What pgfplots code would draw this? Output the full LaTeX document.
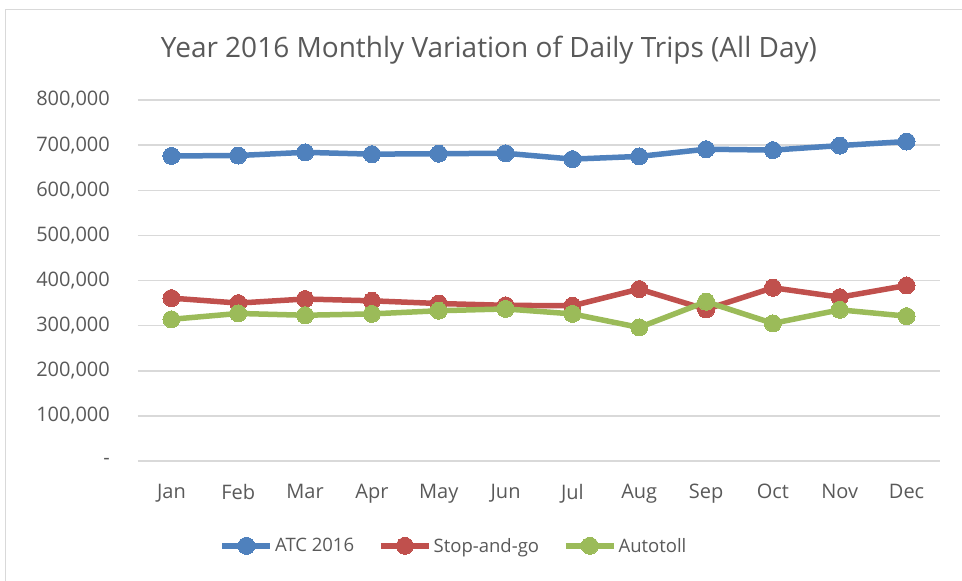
\documentclass[border=0pt]{standalone}
\usepackage{fontspec}
\setmainfont{Open Sans}
\usepackage{pgfplots}
\pgfplotsset{compat=1.18}
\definecolor{atcblue}{HTML}{4F81BD}
\definecolor{sgred}{HTML}{C0504D}
\definecolor{atgreen}{HTML}{9BBB59}
\definecolor{txtgray}{HTML}{595959}
\definecolor{gridgray}{HTML}{D9D9D9}

% monthly daily trips
\pgfplotstableread{
m atc    sg     at
0 676000 361000 314000
1 677000 350000 327000
2 684000 359000 323000
3 680000 355000 326000
4 681000 349000 333000
5 682000 345000 337000
6 669000 344000 326000
7 675000 381000 296000
8 691000 336000 353000
9 689000 384000 305000
10 699000 363000 335000
11 708000 389000 321000
}\trips

\begin{document}
\begin{tikzpicture}
\path[use as bounding box] (0pt,0pt) rectangle (962pt,-581pt);
\draw[gridgray, line width=1pt] (5pt,-620pt) -- (5pt,-9pt) -- (1000pt,-9pt);
\node[font=\fontsize{28}{32}\selectfont, text=txtgray] at (489pt,-50pt) {Year 2016 Monthly Variation of Daily Trips (All Day)};
\begin{axis}[
    at={(138pt,-461pt)}, anchor=south west,
    scale only axis,
    width=802pt, height=361pt,
    xmin=-0.5, xmax=11.5,
    ymin=0, ymax=800000,
    scaled y ticks=false,
    axis line style={draw=none},
    major tick length=0pt,
    ymajorgrids,
    grid style={gridgray, line width=1.5pt},
    xtick={0,...,11},
    xticklabels={Jan,Feb,Mar,Apr,May,Jun,Jul,Aug,Sep,Oct,Nov,Dec},
    ytick={0,100000,...,800000},
    yticklabels={{-},{100,000},{200,000},{300,000},{400,000},{500,000},{600,000},{700,000},{800,000}},
    tick label style={font=\fontsize{20}{24}\selectfont, text=txtgray},
    yticklabel style={anchor=east, inner sep=0pt, xshift=-28pt},
    xticklabel style={anchor=north, inner sep=0pt, yshift=-23pt},
    every axis plot/.append style={line width=5.5pt, mark=*, mark size=8.5pt},
    legend style={draw=none, at={(0.394,-0.235)}, anchor=center, legend columns=3,
        font=\fontsize{18.5}{22}\selectfont, text=txtgray,
        nodes={inner xsep=2pt},
        /tikz/every even column/.append style={column sep=22pt}},
    legend image code/.code={\draw[mark repeat=2, mark phase=2, #1] plot coordinates {(0pt,0pt) (24pt,0pt) (48pt,0pt)};},
]
\addplot[atcblue, mark options={fill=atcblue, line width=0pt}] table[x=m, y=atc] {\trips};
\addplot[sgred, mark options={fill=sgred, line width=0pt}] table[x=m, y=sg] {\trips};
\addplot[atgreen, mark options={fill=atgreen, line width=0pt}] table[x=m, y=at] {\trips};
\legend{ATC 2016, Stop-and-go, Autotoll}
\end{axis}
\end{tikzpicture}
\end{document}
